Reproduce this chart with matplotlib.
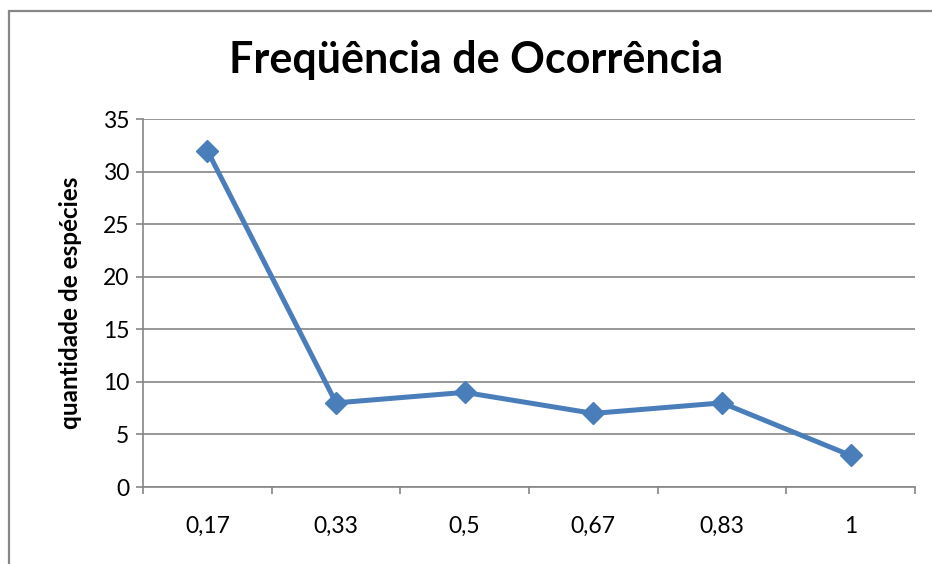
import matplotlib.pyplot as plt
from matplotlib.patches import Rectangle

plt.rcParams['font.family'] = ['Lato', 'DejaVu Sans']

categories = ['0,17', '0,33', '0,5', '0,67', '0,83', '1']
especies = [32, 8, 9, 7, 8, 3]

grey = '#868686'
blue = '#4A7EBB'

fig = plt.figure(figsize=(9.32, 5.64), dpi=100)
ax = fig.add_axes([143/932, 1 - 487/564, (915 - 143)/932, (487 - 119)/564])

x = list(range(1, len(categories) + 1))
ax.plot(x, especies, color=blue, lw=3.6, marker='D', ms=11, zorder=3)

ax.set_xlim(0.5, len(categories) + 0.5)
ax.set_ylim(0, 35)
ax.set_yticks(range(0, 36, 5))
ax.yaxis.grid(True, color=grey, lw=1.2)
ax.set_axisbelow(True)

# ticks on category borders, labels in the middle
ax.set_xticks([i + 0.5 for i in range(len(categories) + 1)])
ax.set_xticklabels([])
ax.set_xticks(x, minor=True)
ax.set_xticklabels(categories, minor=True)
ax.tick_params(axis='x', which='major', length=5, width=1.2, color=grey, direction='out')
ax.tick_params(axis='x', which='minor', length=0, pad=21, labelsize=16.5)
ax.tick_params(axis='y', length=5, width=1.2, color=grey, pad=5, labelsize=16.5)

for s in ['top', 'right']:
    ax.spines[s].set_visible(False)
for s in ['left', 'bottom']:
    ax.spines[s].set_color(grey)
    ax.spines[s].set_linewidth(1.2)

ax.set_ylabel('quantidade de espécies', fontsize=17.5, fontweight='bold', labelpad=15)

fig.text(476/932, 1 - 60/564, 'Freqüência de Ocorrência', ha='center', va='center',
         fontsize=31, fontweight='bold')

fig.patches.append(Rectangle((9/932, -0.1), 1.0, 1.1 - 11/564, transform=fig.transFigure,
                             fill=False, edgecolor=grey, lw=1.6))

plt.savefig('out.png', dpi=100)
